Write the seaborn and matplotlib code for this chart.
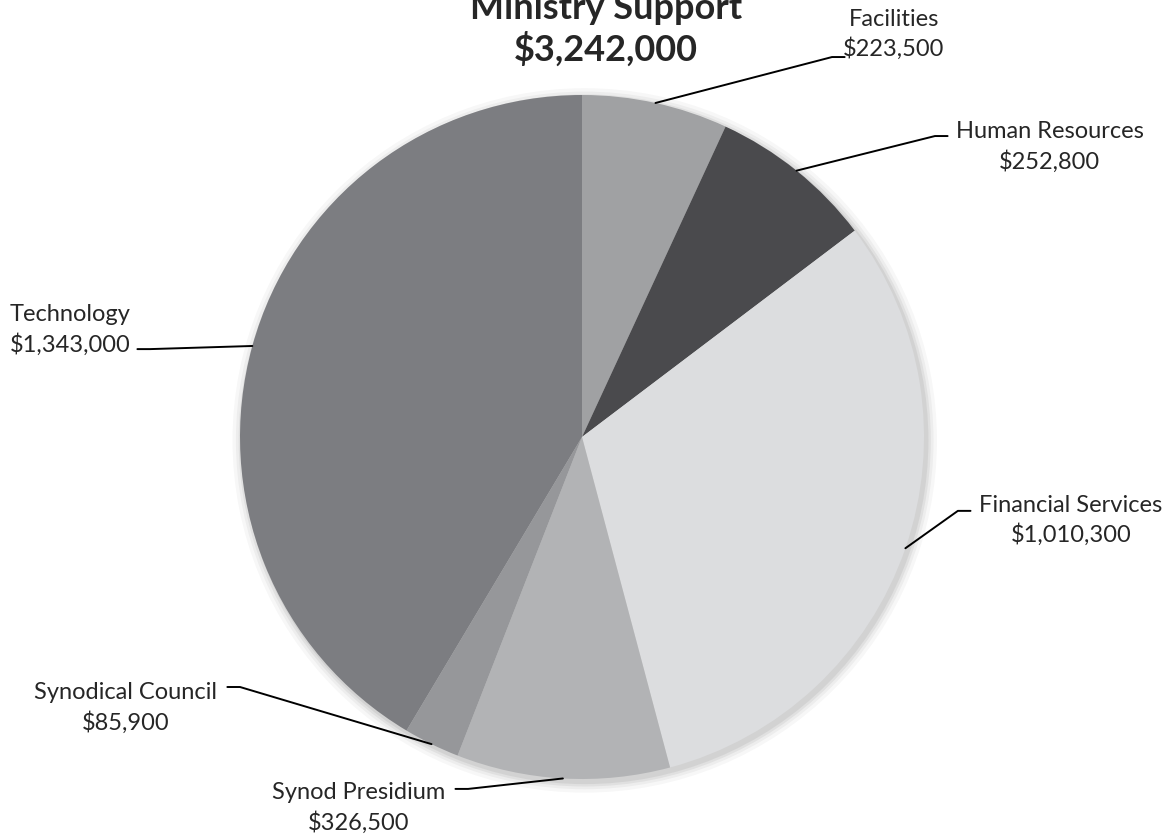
import numpy as np
import seaborn as sns
import matplotlib.pyplot as plt

# data
labels = ["Facilities", "Human Resources", "Financial Services",
          "Synod Presidium", "Synodical Council", "Technology"]
values = [223500, 252800, 1010300, 326500, 85900, 1343000]
colors = ["#a0a1a3", "#4a4a4d", "#dcdddf", "#b2b3b5", "#96979a", "#7c7d81"]

# label layout (data units, pie radius = 1): elbow point and text centre
elbows = [(0.731, 1.111), (1.032, 0.880), (1.099, -0.216),
          (-0.333, -1.029), (-1.000, -0.731), (-1.263, 0.257)]
text_pos = [(0.912, 1.181), (1.368, 0.851), (1.43, -0.240),
            (-0.652, -1.082), (-1.335, -0.789), (-1.497, 0.316)]

sns.set_theme(style="white")
plt.rcParams["font.family"] = ["Lato", "DejaVu Sans"]

fig = plt.figure(figsize=(11.72, 8.37), dpi=100)
lim = 1.06
rpx = 342 * lim
ax = fig.add_axes([(582 - rpx) / 1172, (837 - 438 - rpx) / 837, 2 * rpx / 1172, 2 * rpx / 837])

# soft shadow behind the pie
for r, a in [(1.03, 0.03), (1.02, 0.04), (1.012, 0.05), (1.005, 0.06)]:
    ax.add_patch(plt.Circle((0.008, -0.01), r, color="black", alpha=a, lw=0, zorder=0))

wedges, _ = ax.pie(values, colors=colors, startangle=90, counterclock=False,
                   radius=1, wedgeprops=dict(linewidth=0))

for w, lab, val, (ex, ey), (tx, ty) in zip(wedges, labels, values, elbows, text_pos):
    ang = np.deg2rad((w.theta1 + w.theta2) / 2)
    ax_, ay_ = np.cos(ang), np.sin(ang)
    side = 1 if tx > ex else -1
    ax.plot([ax_, ex, ex + side * 0.037], [ay_, ey, ey], color="black", lw=1.4,
            clip_on=False, zorder=5)
    ax.text(tx, ty, f"{lab}\n${val:,.0f}", ha="center", va="center",
            fontsize=17, linespacing=1.4, clip_on=False)

ax.set_xlim(-lim, lim)
ax.set_ylim(-lim, lim)
ax.set_aspect("auto")
ax.axis("off")

total = sum(values)
fig.text(0.517, 0.965, f"Ministry Support\n${total:,.0f}", ha="center", va="center",
         fontsize=26, fontweight="bold", linespacing=1.25)

fig.savefig("out.png", dpi=100)
